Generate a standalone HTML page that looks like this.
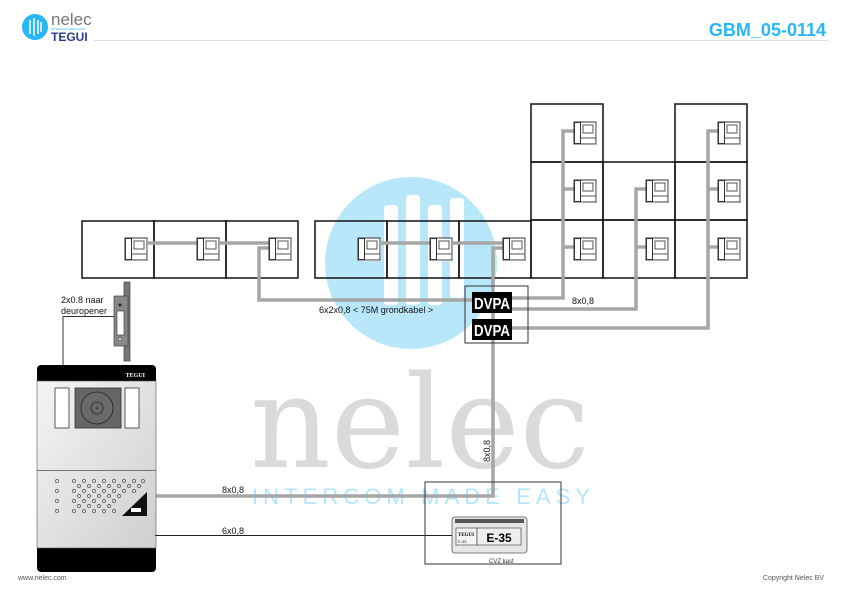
<!DOCTYPE html>
<html><head><meta charset="utf-8"><style>
html,body{margin:0;padding:0;background:#fff;}
svg{display:block;font-family:"Liberation Sans",sans-serif;}
</style></head><body>
<svg width="841" height="595" viewBox="0 0 841 595" xmlns="http://www.w3.org/2000/svg">
<defs>
<g id="ph">
<rect x="0" y="0" width="22" height="22" fill="#fff" stroke="#333" stroke-width="1"/>
<rect x="0.5" y="0.5" width="6" height="21" fill="#fff" stroke="#333" stroke-width="1"/>
<rect x="9" y="3" width="10" height="8" fill="#fff" stroke="#555" stroke-width="1"/>
<line x1="7" y1="16" x2="22" y2="16" stroke="#555"/>
<line x1="1" y1="22.5" x2="23" y2="22.5" stroke="#aaa"/>
<line x1="22.5" y1="1" x2="22.5" y2="22.5" stroke="#aaa"/>
</g>
</defs>

<!-- watermark -->
<circle cx="411" cy="263" r="86" fill="#b9e7fa"/>
<g fill="#fff">
<rect x="384" y="205" width="14" height="100" rx="3"/>
<rect x="406" y="195" width="14" height="110" rx="3"/>
<rect x="428" y="205" width="14" height="100" rx="3"/>
<rect x="450" y="198" width="14" height="100" rx="3"/>
</g>
<text x="250" y="467" font-family="DejaVu Serif, serif" font-size="128" fill="#dadada" textLength="340" lengthAdjust="spacingAndGlyphs">nelec</text>
<text x="252" y="504" font-family="Liberation Sans, sans-serif" font-size="22" fill="#b3e5fc" textLength="338" lengthAdjust="spacing">INTERCOM MADE EASY</text>

<!-- header -->
<circle cx="35" cy="27" r="13" fill="#29b6f6"/>
<g stroke="#fff" stroke-width="1.5"><line x1="30" y1="20" x2="30" y2="34"/><line x1="34" y1="18" x2="34" y2="36"/><line x1="38" y1="20" x2="38" y2="34"/><line x1="41" y1="22" x2="41" y2="32"/></g>
<text x="51" y="25" font-size="17" fill="#777">nelec</text>
<text x="51" y="30" font-size="3" fill="#29b6f6">INTERCOM MADE EASY</text>
<text x="51" y="41" font-size="12" font-weight="bold" fill="#2b3a8c">TEGUI</text>
<line x1="94" y1="40.5" x2="828" y2="40.5" stroke="#ddd" stroke-width="1"/>
<text x="826" y="36" font-size="18" font-weight="bold" fill="#29b6f6" text-anchor="end">GBM_05-0114</text>

<!-- boxes -->
<g fill="none" stroke="#111" stroke-width="1.5">
<rect x="82" y="221" width="72" height="57"/><rect x="154" y="221" width="72" height="57"/><rect x="226" y="221" width="72" height="57"/>
<rect x="315" y="221" width="72" height="57"/><rect x="387" y="221" width="72" height="57"/><rect x="459" y="221" width="72" height="57"/>
<rect x="531" y="220" width="72" height="58"/><rect x="603" y="220" width="72" height="58"/><rect x="675" y="220" width="72" height="58"/>
<rect x="531" y="162" width="72" height="58"/><rect x="603" y="162" width="72" height="58"/><rect x="675" y="162" width="72" height="58"/>
<rect x="531" y="104" width="72" height="58"/><rect x="675" y="104" width="72" height="58"/>
</g>

<!-- wires -->
<g fill="none" stroke="#a6a6a6" stroke-width="3.5">
<line x1="147" y1="243" x2="197" y2="243"/><line x1="219" y1="243" x2="269" y2="243"/>
<polyline points="269,248 259,248 259,300 472,300"/>
<line x1="380" y1="243" x2="430" y2="243"/><line x1="452" y1="243" x2="503" y2="243"/>
<polyline points="503,248 493,248 493,496 155,496"/>
<polyline points="574,131 563,131 563,298 512,298"/>
<line x1="563" y1="189" x2="574" y2="189"/><line x1="563" y1="247" x2="574" y2="247"/>
<polyline points="646,189 636,189 636,309 512,309"/>
<line x1="636" y1="247" x2="646" y2="247"/>
<polyline points="718,131 708,131 708,328 512,328"/>
<line x1="708" y1="189" x2="718" y2="189"/><line x1="708" y1="247" x2="718" y2="247"/>
</g>

<!-- phones -->
<use href="#ph" x="125" y="238"/><use href="#ph" x="197" y="238"/><use href="#ph" x="269" y="238"/>
<use href="#ph" x="358" y="238"/><use href="#ph" x="430" y="238"/><use href="#ph" x="503" y="238"/>
<use href="#ph" x="574" y="238"/><use href="#ph" x="646" y="238"/><use href="#ph" x="718" y="238"/>
<use href="#ph" x="574" y="180"/><use href="#ph" x="646" y="180"/><use href="#ph" x="718" y="180"/>
<use href="#ph" x="574" y="122"/><use href="#ph" x="718" y="122"/>

<!-- DVPA -->
<rect x="465" y="286" width="63" height="57" fill="none" stroke="#333" stroke-width="1"/>
<rect x="472" y="292" width="40" height="21" fill="#000"/>
<rect x="472" y="319" width="40" height="21" fill="#000"/>
<text x="492" y="309" font-size="16" font-weight="bold" fill="#fff" text-anchor="middle" textLength="36" lengthAdjust="spacingAndGlyphs">DVPA</text>
<text x="492" y="336" font-size="16" font-weight="bold" fill="#fff" text-anchor="middle" textLength="36" lengthAdjust="spacingAndGlyphs">DVPA</text>

<g font-size="9" fill="#111">
<text x="319" y="313">6x2x0,8 &lt; 75M grondkabel &gt;</text>
<text x="572" y="304">8x0,8</text>
<text x="222" y="493">8x0,8</text>
<text x="222" y="534">6x0,8</text>
<text x="61" y="303">2x0.8 naar</text>
<text x="61" y="314">deuropener</text>
<text transform="translate(490,462) rotate(-90)">8x0,8</text>
</g>

<!-- door opener -->
<line x1="63" y1="365" x2="63" y2="316" stroke="#333"/><line x1="63" y1="316.5" x2="118" y2="316.5" stroke="#333"/>
<rect x="124" y="282" width="6" height="79" fill="#777" stroke="#444" stroke-width="0.7"/>
<rect x="114" y="296" width="14" height="50" fill="#888" stroke="#444" stroke-width="0.7"/>
<rect x="117" y="311" width="7" height="24" fill="#fff" stroke="#333" stroke-width="0.6"/>
<circle cx="120" cy="305" r="1.5" fill="#222"/><circle cx="120" cy="339" r="1.3" fill="#fff" stroke="#333" stroke-width="0.5"/>

<!-- panel -->
<defs><linearGradient id="pg" x1="0" y1="0" x2="1" y2="1"><stop offset="0" stop-color="#f4f4f4"/><stop offset="1" stop-color="#cfcfcf"/></linearGradient></defs>
<rect x="37" y="365" width="119" height="207" rx="4" fill="#000"/>
<rect x="37" y="381" width="119" height="167" fill="url(#pg)" stroke="#555" stroke-width="0.6"/>
<line x1="37" y1="470.5" x2="156" y2="470.5" stroke="#777"/>
<text x="145" y="377" font-size="6" font-weight="bold" fill="#fff" text-anchor="end" font-family="Liberation Serif, serif">TEGUI</text>
<rect x="55" y="388" width="14" height="40" fill="#fff" stroke="#333" stroke-width="0.8"/>
<rect x="125" y="388" width="14" height="40" fill="#fff" stroke="#333" stroke-width="0.8"/>
<rect x="75" y="388" width="46" height="40" fill="#666" stroke="#333" stroke-width="0.8"/>
<circle cx="97" cy="408" r="16" fill="#6a6a6a" stroke="#222" stroke-width="0.8"/>
<circle cx="97" cy="408" r="6" fill="none" stroke="#222" stroke-width="0.8"/>
<circle cx="97" cy="408" r="0.8" fill="#000"/>
<g fill="none" stroke="#333" stroke-width="0.6">
<circle cx="57" cy="481" r="1.6"/><circle cx="57" cy="491" r="1.6"/><circle cx="57" cy="501" r="1.6"/><circle cx="57" cy="511" r="1.6"/>
<circle cx="74" cy="481" r="1.6"/><circle cx="84" cy="481" r="1.6"/><circle cx="94" cy="481" r="1.6"/><circle cx="104" cy="481" r="1.6"/><circle cx="114" cy="481" r="1.6"/><circle cx="124" cy="481" r="1.6"/><circle cx="134" cy="481" r="1.6"/><circle cx="143" cy="481" r="1.6"/>
<circle cx="79" cy="486" r="1.6"/><circle cx="89" cy="486" r="1.6"/><circle cx="99" cy="486" r="1.6"/><circle cx="109" cy="486" r="1.6"/><circle cx="119" cy="486" r="1.6"/><circle cx="129" cy="486" r="1.6"/><circle cx="139" cy="486" r="1.6"/>
<circle cx="74" cy="491" r="1.6"/><circle cx="84" cy="491" r="1.6"/><circle cx="94" cy="491" r="1.6"/><circle cx="104" cy="491" r="1.6"/><circle cx="114" cy="491" r="1.6"/><circle cx="124" cy="491" r="1.6"/><circle cx="134" cy="491" r="1.6"/>
<circle cx="79" cy="496" r="1.6"/><circle cx="89" cy="496" r="1.6"/><circle cx="99" cy="496" r="1.6"/><circle cx="109" cy="496" r="1.6"/><circle cx="119" cy="496" r="1.6"/>
<circle cx="74" cy="501" r="1.6"/><circle cx="84" cy="501" r="1.6"/><circle cx="94" cy="501" r="1.6"/><circle cx="104" cy="501" r="1.6"/><circle cx="114" cy="501" r="1.6"/>
<circle cx="79" cy="506" r="1.6"/><circle cx="89" cy="506" r="1.6"/><circle cx="99" cy="506" r="1.6"/><circle cx="109" cy="506" r="1.6"/>
<circle cx="74" cy="511" r="1.6"/><circle cx="84" cy="511" r="1.6"/><circle cx="94" cy="511" r="1.6"/><circle cx="104" cy="511" r="1.6"/><circle cx="114" cy="511" r="1.6"/>
</g>
<polygon points="147,492 147,516 122,516" fill="#111"/>
<rect x="131" y="508" width="10" height="4" fill="#fff"/>
<line x1="155" y1="535.5" x2="453" y2="535.5" stroke="#222" stroke-width="1"/>

<!-- CVZ -->
<rect x="425" y="482" width="136" height="82" fill="none" stroke="#333" stroke-width="1"/>
<rect x="452" y="517" width="75" height="36" rx="3" fill="#e6e6e6" stroke="#555" stroke-width="0.8"/>
<rect x="455" y="519" width="69" height="4" fill="#555"/>
<rect x="456" y="528" width="21" height="17" fill="#f4f4f4" stroke="#333" stroke-width="0.6"/>
<rect x="477" y="528" width="44" height="17" fill="#eee" stroke="#333" stroke-width="0.6"/>
<text x="458" y="536" font-size="5" font-weight="bold" font-family="Liberation Serif, serif">TEGUI</text>
<text x="458" y="543" font-size="4" fill="#333">E-35</text>
<text x="499" y="542" font-size="12" font-weight="bold" text-anchor="middle">E-35</text>
<text x="489" y="563" font-size="6" fill="#333">CVZ kast</text>

<text x="18" y="580" font-size="7" fill="#555">www.nelec.com</text>
<text x="824" y="580" font-size="7" fill="#555" text-anchor="end">Copyright Nelec BV</text>
</svg>
</body></html>
